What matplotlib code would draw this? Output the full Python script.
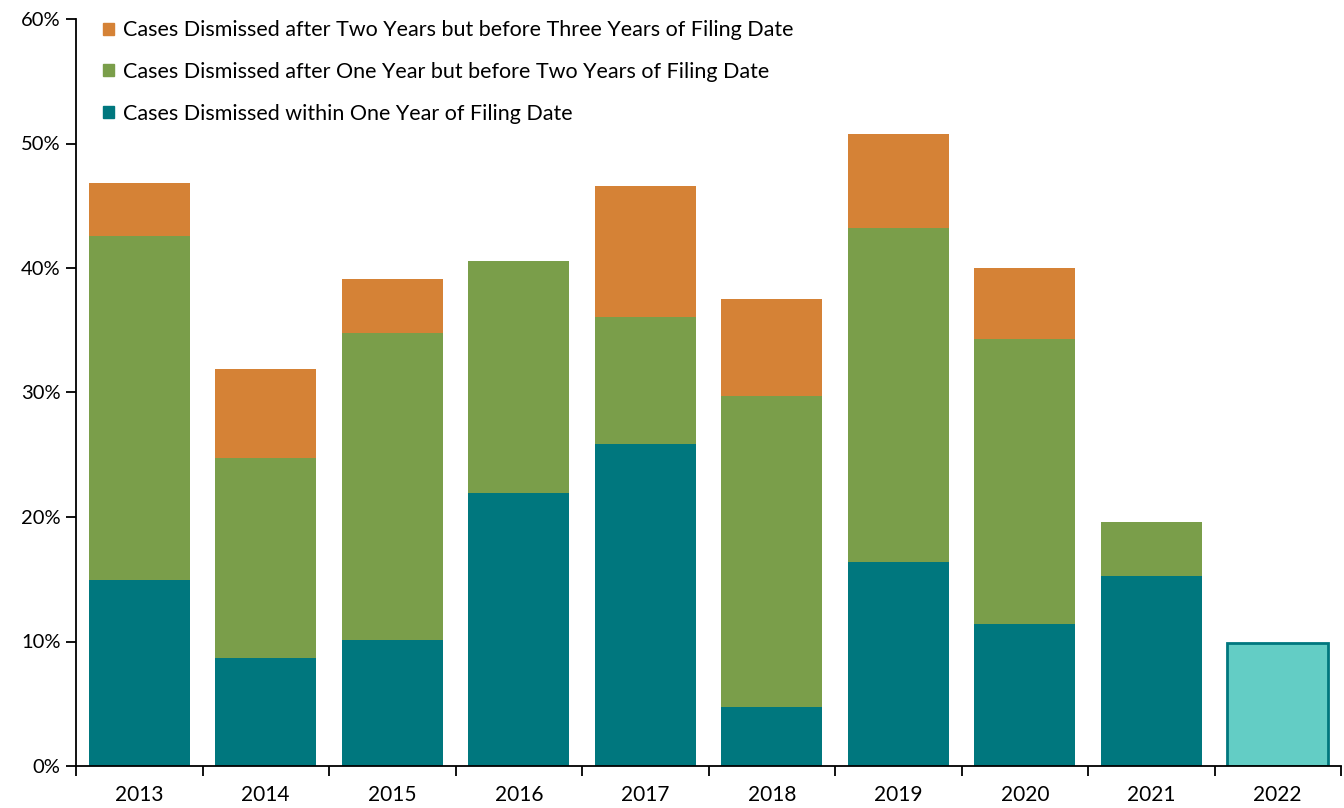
import matplotlib
matplotlib.use("Agg")
import matplotlib.pyplot as plt
from matplotlib.patches import Patch
from matplotlib.ticker import FixedLocator, PercentFormatter

plt.rcParams['font.family'] = ['Lato', 'DejaVu Sans']

years = ['2013', '2014', '2015', '2016', '2017', '2018', '2019', '2020', '2021', '2022']
within_one = [14.9, 8.7, 10.1, 21.9, 25.9, 4.7, 16.4, 11.4, 15.3, 9.9]
one_to_two = [27.7, 16.0, 24.7, 18.7, 10.2, 25.0, 26.8, 22.9, 4.3, 0.0]
two_to_three = [4.2, 7.2, 4.3, 0.0, 10.5, 7.8, 7.6, 5.7, 0.0, 0.0]

labels = ['Cases Dismissed within One Year of Filing Date',
          'Cases Dismissed after One Year but before Two Years of Filing Date',
          'Cases Dismissed after Two Years but before Three Years of Filing Date']

c_teal = '#00777E'
c_green = '#7A9E4A'
c_orange = '#D58236'
c_light = '#63CDC5'

fig = plt.figure(figsize=(13.44, 8.08), dpi=100)
ax = fig.add_axes([76/1344, 42/808, 1265/1344, 747/808])

x = list(range(len(years)))
w = 0.8
n = len(years)
xs = x[:-1]
ax.bar(xs, within_one[:-1], w, color=c_teal, edgecolor='none')
bottom2 = within_one[:-1]
ax.bar(xs, one_to_two[:-1], w, bottom=bottom2, color=c_green, edgecolor='none')
bottom3 = [a + b for a, b in zip(within_one[:-1], one_to_two[:-1])]
ax.bar(xs, two_to_three[:-1], w, bottom=bottom3, color=c_orange, edgecolor='none')
ax.bar([x[-1]], [within_one[-1]], w, color=c_light, edgecolor=c_teal, linewidth=2)

ax.set_xlim(-0.5, n - 0.5)
ax.set_ylim(0, 60)
ax.yaxis.set_major_locator(FixedLocator([0, 10, 20, 30, 40, 50, 60]))
ax.yaxis.set_major_formatter(PercentFormatter(decimals=0))

ax.xaxis.set_major_locator(FixedLocator([i - 0.5 for i in range(n + 1)]))
ax.xaxis.set_minor_locator(FixedLocator(x))
ax.set_xticklabels([''] * (n + 1))
ax.set_xticklabels(years, minor=True)
ax.tick_params(axis='x', which='major', length=7, width=1.3, direction='out')
ax.tick_params(axis='x', which='minor', length=0, pad=14, labelsize=15)
ax.tick_params(axis='y', length=7, width=1.3, direction='out', labelsize=14.5, pad=4)

for s in ['top', 'right']:
    ax.spines[s].set_visible(False)
for s in ['left', 'bottom']:
    ax.spines[s].set_linewidth(1.3)

handles = [Patch(color=c_orange), Patch(color=c_green), Patch(color=c_teal)]
ax.legend(handles, labels[::-1], loc='upper left', bbox_to_anchor=(0.006, 1.024),
          frameon=False, fontsize=15.5, handlelength=0.5, handleheight=0.5,
          handletextpad=0.45, labelspacing=1.0, borderpad=0.4)

fig.savefig('out.png', dpi=100)
